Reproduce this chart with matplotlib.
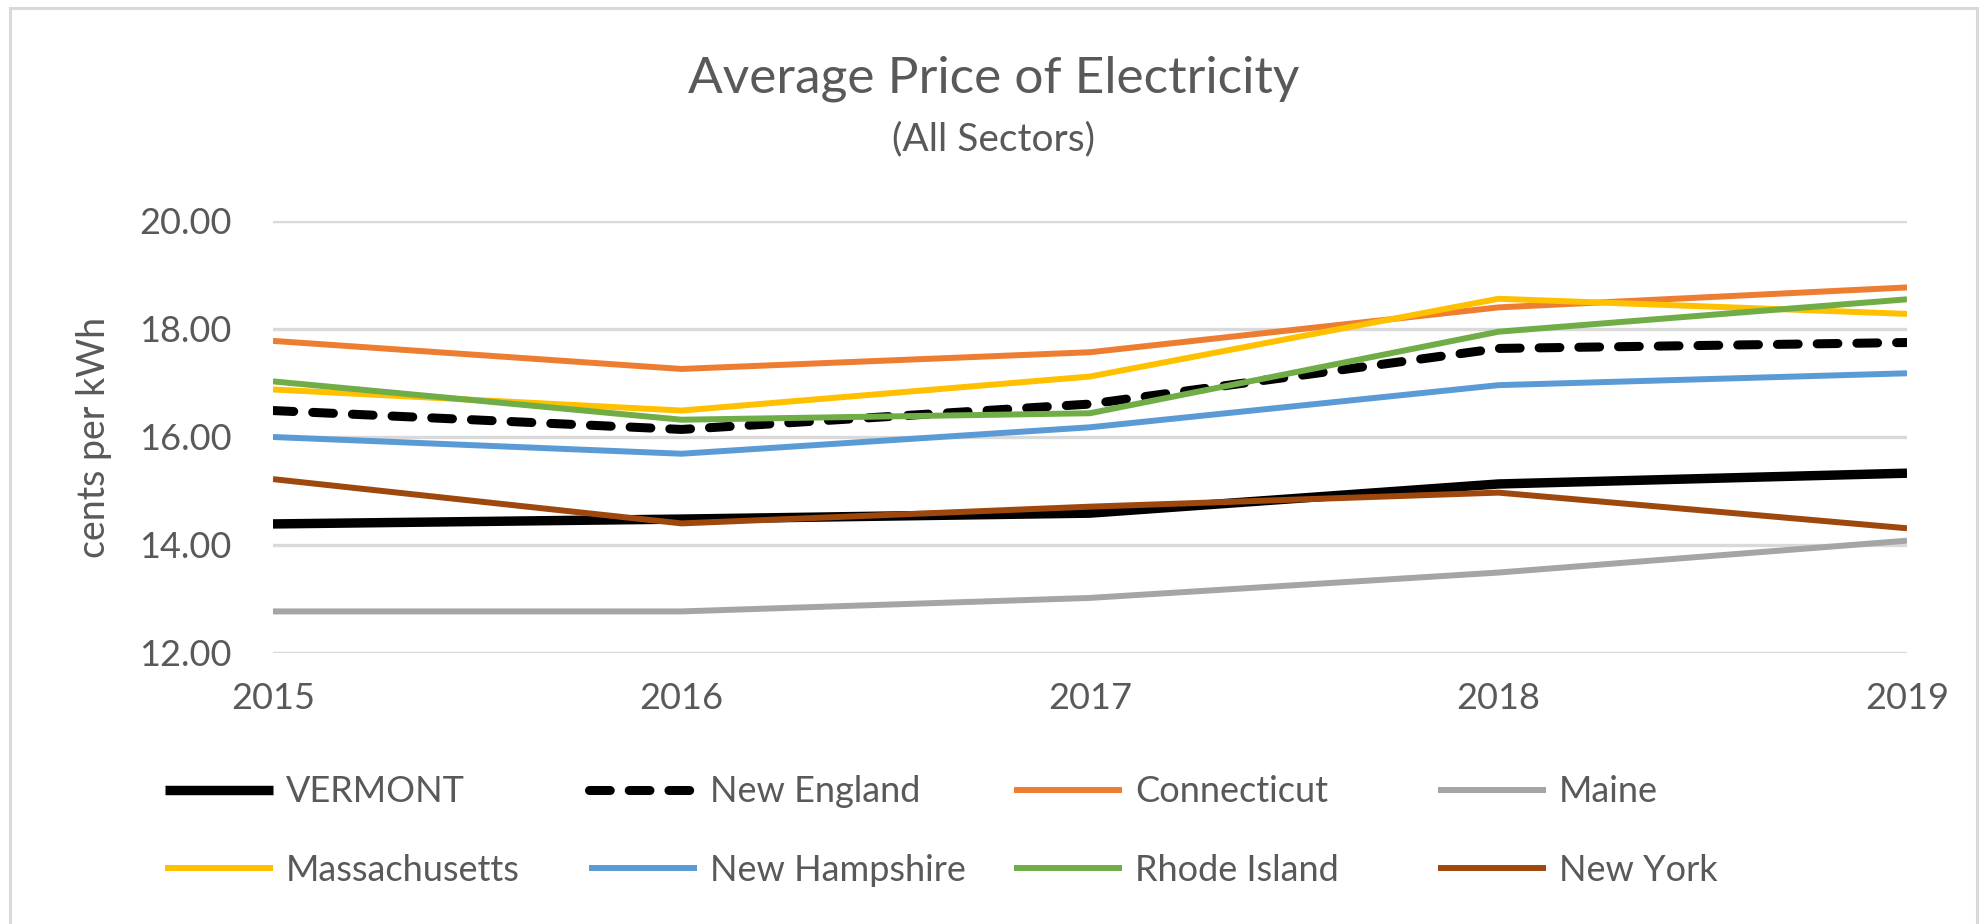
import matplotlib
matplotlib.use('Agg')
import matplotlib.pyplot as plt
from matplotlib.patches import Rectangle

plt.rcParams['font.family'] = ['Lato', 'DejaVu Sans']

years = [2015, 2016, 2017, 2018, 2019]

vermont = [14.39, 14.48, 14.59, 15.13, 15.33]
new_england = [16.49, 16.14, 16.61, 17.64, 17.75]
connecticut = [17.78, 17.26, 17.57, 18.40, 18.77]
maine = [12.77, 12.77, 13.02, 13.49, 14.08]
massachusetts = [16.88, 16.49, 17.12, 18.56, 18.28]
new_hampshire = [16.00, 15.69, 16.18, 16.96, 17.18]
rhode_island = [17.03, 16.32, 16.44, 17.95, 18.55]
new_york = [15.22, 14.40, 14.71, 14.97, 14.31]

y_ticks = [12, 14, 16, 18, 20]

TEXT = '#595959'
GRID = '#d9d9d9'

W, H = 1987, 924
fig = plt.figure(figsize=(W / 100, H / 100), dpi=100)
ax = fig.add_axes([273 / W, 1 - 653 / H, (1907 - 273) / W, (653 - 221) / H])

# series in Excel draw order (later ones on top)
series = [
    ('VERMONT', vermont, dict(color='black', lw=6.8)),
    ('New England', new_england, dict(color='black', lw=6.5, dashes=(2.3, 2.1),
                                      dash_capstyle='round')),
    ('Connecticut', connecticut, dict(color='#ED7D31', lw=4.3)),
    ('Maine', maine, dict(color='#A5A5A5', lw=4.3)),
    ('Massachusetts', massachusetts, dict(color='#FFC000', lw=4.3)),
    ('New Hampshire', new_hampshire, dict(color='#5B9BD5', lw=4.3)),
    ('Rhode Island', rhode_island, dict(color='#70AD47', lw=4.3)),
    ('New York', new_york, dict(color='#9E480E', lw=4.3)),
]

handles = {}
for name, vals, kw in series:
    ln, = ax.plot(years, vals, solid_capstyle='butt', **kw)
    handles[name] = ln

ax.set_xlim(2015, 2019)
ax.set_ylim(12, 20)
ax.set_yticks(y_ticks)
ax.set_yticklabels([f'{v:.2f}' for v in y_ticks])
ax.set_xticks(years)
ax.set_xticklabels([str(y) for y in years])
ax.tick_params(axis='y', length=0, pad=30, labelsize=26, labelcolor=TEXT)
ax.tick_params(axis='x', length=0, pad=21, labelsize=26, labelcolor=TEXT)
ax.grid(axis='y', color=GRID, lw=2.4)
ax.set_axisbelow(True)
for s in ax.spines.values():
    s.set_visible(False)

fig.text(94 / W, 1 - 437 / H, 'cents per kWh', rotation=90, ha='center', va='center',
         fontsize=27, color=TEXT)

fig.text(0.5, 1 - 79 / H, 'Average Price of Electricity', ha='center', va='center',
         fontsize=37, color=TEXT)
fig.text(0.5, 1 - 139 / H, '(All Sectors)', ha='center', va='center',
         fontsize=28, color=TEXT)

# legend: four columns, two rows
columns = [('VERMONT', 'Massachusetts'), ('New England', 'New Hampshire'),
           ('Connecticut', 'Rhode Island'), ('Maine', 'New York')]
col_x = [165, 589, 1014, 1438]
for x, names in zip(col_x, columns):
    leg = fig.legend([handles[n] for n in names], names, loc='center left',
                     bbox_to_anchor=(x / W, 1 - 831 / H), frameon=False,
                     borderaxespad=0, borderpad=0, handlelength=3.0,
                     handletextpad=0.35, labelspacing=1.25, fontsize=26,
                     labelcolor=TEXT)

# chart area border
fig.patches.append(Rectangle((10 / W, -0.01), (1977 - 10) / W, 1.01 - 8 / H,
                             transform=fig.transFigure, fill=False,
                             edgecolor=GRID, lw=2.2))

fig.savefig('out.png', dpi=100, facecolor='white')
